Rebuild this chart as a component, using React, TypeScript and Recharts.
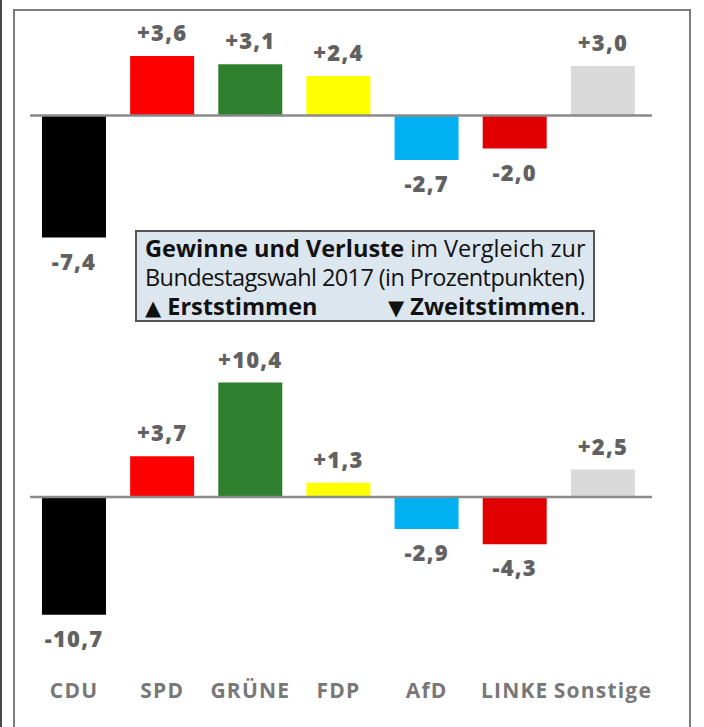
import { BarChart, Bar, XAxis, YAxis, ReferenceLine, LabelList, Cell } from 'recharts'

const parties = ['CDU', 'SPD', 'GRÜNE', 'FDP', 'AfD', 'LINKE', 'Sonstige']
const erststimmen = [-7.4, 3.6, 3.1, 2.4, -2.7, -2.0, 3.0]
const zweitstimmen = [-10.7, 3.7, 10.4, 1.3, -2.9, -4.3, 2.5]
const partyColors = ['#000000', '#ff0000', '#2e7f2e', '#ffff00', '#00b0f0', '#e00000', '#d9d9d9']

const FONT = '"Open Sans", "Noto Sans", sans-serif'

const topData = parties.map((p, i) => ({ party: p, value: erststimmen[i] }))
const bottomData = parties.map((p, i) => ({ party: p, value: zweitstimmen[i] }))

// Komma statt Punkt, Pluszeichen bei Gewinnen
const fmt = (v: number) => `${v > 0 ? '+' : ''}${v.toFixed(1).replace('.', ',')}`

const ValueLabel = (props: any) => {
  const { x, y, width, height, value } = props
  const top = Math.min(y, y + height)
  const bottom = Math.max(y, y + height)
  const ty = value >= 0 ? top - 15 : bottom + 32
  return (
    <text
      x={x + width / 2}
      y={ty}
      textAnchor="middle"
      fill="#616161"
      fontFamily={FONT}
      fontWeight={800}
      fontSize={22}
      letterSpacing={1.2}
    >
      {fmt(value)}
    </text>
  )
}

const PartyTick = (props: any) => {
  const { x, y, payload } = props
  return (
    <text
      x={x}
      y={y + 69}
      textAnchor="middle"
      fill="#787878"
      fontFamily={FONT}
      fontWeight={700}
      fontSize={21}
      letterSpacing={1.2}
    >
      {payload.value}
    </text>
  )
}

function DiffChart({ data, domain, showAxis, height, marginTop, marginBottom }: any) {
  return (
    <BarChart
      width={704}
      height={height}
      data={data}
      margin={{ top: marginTop, right: 52, left: 30, bottom: marginBottom }}
    >
      <XAxis
        dataKey="party"
        hide={!showAxis}
        axisLine={false}
        tickLine={false}
        tickSize={0}
        tickMargin={0}
        height={80}
        interval={0}
        padding={{ left: 0, right: 5 }}
        tick={<PartyTick />}
      />
      <YAxis hide type="number" domain={domain} allowDataOverflow />
      <Bar dataKey="value" barSize={64} isAnimationActive={false}>
        {data.map((_: any, i: number) => (
          <Cell key={`cell-${i}`} fill={partyColors[i]} />
        ))}
        <LabelList dataKey="value" content={<ValueLabel />} />
      </Bar>
      <ReferenceLine y={0} stroke="#8a8a8a" strokeWidth={2.5} />
    </BarChart>
  )
}

const triangle = { fontFamily: '"DejaVu Sans", sans-serif', fontSize: 21, lineHeight: '0' }

export default function App() {
  return (
    <div style={{ position: 'absolute', left: 0, top: 0, width: 704, height: 727, overflow: 'hidden', background: '#fff' }}>
      <div style={{ position: 'absolute', left: 0, top: 0, width: 2, height: 727, background: '#4a4a4a' }} />
      <div
        style={{
          position: 'absolute',
          left: 13,
          top: 9,
          width: 674,
          height: 800,
          border: '2px solid #7c7c7c',
        }}
      />
      <div style={{ position: 'absolute', left: 0, top: 0 }}>
        <DiffChart data={topData} domain={[-9, 7]} showAxis={false} height={300} marginTop={0} marginBottom={36} />
      </div>
      <div style={{ position: 'absolute', left: 0, top: 330 }}>
        <DiffChart data={bottomData} domain={[-12, 12]} showAxis height={379} marginTop={35} marginBottom={0} />
      </div>
      <div
        style={{
          position: 'absolute',
          left: 135,
          top: 230,
          width: 456,
          height: 88,
          border: '2px solid #555',
          background: '#dce6ee',
          boxSizing: 'content-box',
          fontFamily: FONT,
          fontSize: 23.5,
          lineHeight: '29px',
          color: '#111',
        }}
      >
        <div style={{ padding: '2px 7px 0 8px' }}>
          <div style={{ whiteSpace: 'nowrap' }}>
            <b>Gewinne und Verluste</b> im Vergleich zur
          </div>
          <div style={{ whiteSpace: 'nowrap', letterSpacing: -0.6 }}>Bundestagswahl 2017 (in Prozentpunkten)</div>
          <div style={{ display: 'flex', justifyContent: 'space-between', whiteSpace: 'nowrap' }}>
            <span>
              <b>
                <span style={triangle}>▲</span> Erststimmen
              </b>
            </span>
            <span>
              <b>
                <span style={triangle}>▼</span> Zweitstimmen
              </b>
              .
            </span>
          </div>
        </div>
      </div>
    </div>
  )
}
